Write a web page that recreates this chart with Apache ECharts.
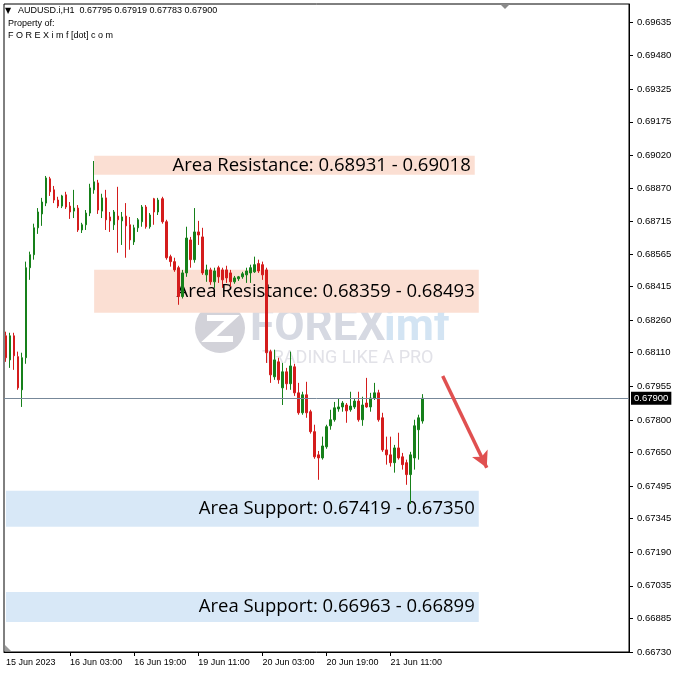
<!DOCTYPE html>
<html><head><meta charset="utf-8">
<script src="https://cdn.jsdelivr.net/npm/echarts@6/dist/echarts.min.js"></script>
<style>html,body{margin:0;padding:0;background:#fff}#c{width:678px;height:678px}</style>
</head><body><div id="c"></div>
<script>
// ---- data (AUDUSD H1) ----
const opens = [0.68188,0.68077,0.68188,0.68092,0.67939,0.68087,0.68502,0.68562,0.68686,0.68750,
0.68800,0.68912,0.68861,0.68814,0.68786,0.68838,0.68786,0.68763,0.68777,0.68676,
0.68700,0.68754,0.68861,0.68893,0.68763,0.68824,0.68736,0.68700,0.68740,0.68718,
0.68740,0.68700,0.68621,0.68686,0.68714,0.68782,0.68691,0.68820,0.68759,0.68820,
0.68714,0.68553,0.68530,0.68502,0.68369,0.68478,0.68630,0.68539,0.68667,0.68644,
0.68469,0.68492,0.68437,0.68502,0.68492,0.68492,0.68478,0.68437,0.68451,0.68460,
0.68469,0.68478,0.68483,0.68521,0.68516,0.68492,0.68115,0.67999,0.68068,0.67948,
0.68022,0.67967,0.68045,0.67925,0.67833,0.67916,0.67838,0.67746,0.67639,0.67625,
0.67676,0.67773,0.67801,0.67851,0.67860,0.67869,0.67847,0.67860,0.67887,0.67801,
0.67878,0.67860,0.67901,0.67925,0.67810,0.67662,0.67639,0.67603,0.67671,0.67630,
0.67603,0.67548,0.67625,0.67755,0.67795];
const closes = [0.68087,0.68188,0.68096,0.67948,0.68087,0.68502,0.68562,0.68686,0.68759,0.68805,
0.68916,0.68852,0.68814,0.68786,0.68833,0.68782,0.68759,0.68777,0.68676,0.68700,
0.68754,0.68870,0.68898,0.68768,0.68824,0.68723,0.68718,0.68759,0.68723,0.68736,
0.68695,0.68630,0.68686,0.68723,0.68782,0.68691,0.68745,0.68759,0.68814,0.68714,
0.68548,0.68530,0.68492,0.68369,0.68478,0.68639,0.68539,0.68667,0.68653,0.68478,
0.68492,0.68437,0.68487,0.68460,0.68446,0.68455,0.68437,0.68455,0.68460,0.68474,
0.68487,0.68502,0.68516,0.68487,0.68469,0.68110,0.68008,0.68077,0.67985,0.68022,
0.67967,0.68049,0.67925,0.67833,0.67916,0.67833,0.67746,0.67630,0.67625,0.67680,
0.67769,0.67801,0.67856,0.67860,0.67878,0.67842,0.67864,0.67887,0.67801,0.67869,
0.67860,0.67901,0.67925,0.67801,0.67662,0.67639,0.67603,0.67671,0.67625,0.67594,
0.67548,0.67639,0.67773,0.67810,0.67900];
const lows = [0.68068,0.68040,0.68031,0.67939,0.67860,0.68059,0.68446,0.68539,0.68658,0.68695,
0.68786,0.68833,0.68800,0.68777,0.68777,0.68773,0.68727,0.68731,0.68667,0.68662,
0.68676,0.68740,0.68843,0.68750,0.68731,0.68676,0.68667,0.68676,0.68571,0.68607,
0.68548,0.68585,0.68607,0.68667,0.68691,0.68682,0.68682,0.68700,0.68745,0.68705,
0.68539,0.68507,0.68483,0.68331,0.68360,0.68460,0.68502,0.68525,0.68607,0.68469,
0.68437,0.68423,0.68409,0.68432,0.68409,0.68432,0.68414,0.68428,0.68441,0.68451,
0.68432,0.68432,0.68478,0.68478,0.68446,0.68063,0.67971,0.67985,0.67967,0.67869,
0.67939,0.67939,0.67911,0.67824,0.67824,0.67810,0.67737,0.67621,0.67524,0.67617,
0.67667,0.67755,0.67792,0.67838,0.67838,0.67787,0.67838,0.67851,0.67792,0.67773,
0.67856,0.67838,0.67892,0.67792,0.67653,0.67594,0.67585,0.67557,0.67617,0.67571,
0.67501,0.67413,0.67571,0.67617,0.67783];
const highs = [0.68207,0.68202,0.68202,0.68115,0.68110,0.68530,0.68576,0.68705,0.68777,0.68824,
0.68925,0.68921,0.68879,0.68829,0.68838,0.68852,0.68805,0.68861,0.68791,0.68709,
0.68768,0.68889,0.68994,0.68907,0.68843,0.68861,0.68759,0.68768,0.68875,0.68759,
0.68800,0.68736,0.68700,0.68731,0.68791,0.68791,0.68754,0.68824,0.68824,0.68829,
0.68723,0.68562,0.68548,0.68511,0.68492,0.68691,0.68644,0.68777,0.68718,0.68686,
0.68516,0.68502,0.68502,0.68511,0.68502,0.68511,0.68492,0.68464,0.68464,0.68483,
0.68502,0.68516,0.68553,0.68539,0.68530,0.68502,0.68124,0.68124,0.68087,0.68063,
0.68040,0.68115,0.68059,0.67971,0.67930,0.67976,0.67847,0.67778,0.67657,0.67723,
0.67778,0.67847,0.67883,0.67901,0.67887,0.67878,0.67930,0.67901,0.67930,0.67907,
0.67994,0.67925,0.67971,0.67939,0.67833,0.67723,0.67723,0.67685,0.67741,0.67648,
0.67617,0.67653,0.67801,0.67824,0.67919];

const yTickValues = [0.69635,0.69480,0.69325,0.69175,0.69020,0.68870,0.68715,0.68565,0.68415,0.68260,
0.68110,0.67955,0.67800,0.67650,0.67495,0.67345,0.67190,0.67035,0.66885,0.66730];
const yMin = 0.66730, yMax = 0.69718;
const xTickIndex = [0,16,32,48,64,80,96];
const xTickText = ['15 Jun 2023','16 Jun 03:00','16 Jun 19:00','19 Jun 11:00','20 Jun 03:00','20 Jun 19:00','21 Jun 11:00'];
const lastPrice = 0.67900;
const headerText = ['AUDUSD.i,H1  0.67795 0.67919 0.67783 0.67900','Property of:','F O R E X i m f [dot] c o m'];

const zoneNames = ['Area Resistance: 0.68931 - 0.69018','Area Resistance: 0.68359 - 0.68493','Area Support: 0.67419 - 0.67350','Area Support: 0.66963 - 0.66899'];
const zoneTop = [0.69018,0.68493,0.67473,0.67007];
const zoneBottom = [0.68931,0.68294,0.67307,0.66868];
const zoneStart = [22,22,-1,-1];
const zoneEnd = [117,118,118,118];
const zoneKind = ['res','res','sup','sup'];
const arrowFrom = [109,0.68003];
const arrowTo = [120,0.67580];

// hourly slots (weekdays only) incl. empty right margin
const slotCount = 156;
const MON = ['Jan','Feb','Mar','Apr','May','Jun','Jul','Aug','Sep','Oct','Nov','Dec'];
const categories = [];
(function(){
  let t = Date.UTC(2023,5,15,11);
  while (categories.length < slotCount) {
    const d = new Date(t), wd = d.getUTCDay();
    if (wd !== 0 && wd !== 6) categories.push(d.getUTCDate()+' '+MON[d.getUTCMonth()]+' '+String(d.getUTCHours()).padStart(2,'0')+':00');
    t += 3600000;
  }
})();

const GREEN = '#16801a', RED = '#d41c1c';
const RES = '#fbdfd3', SUP = '#d8e8f7';
const candleData = opens.map((o,i)=>[o, closes[i], lows[i], highs[i]]);

const zoneData = zoneNames.map((name,i)=>[
  {name: name, xAxis: zoneStart[i], yAxis: zoneTop[i], itemStyle:{color: zoneKind[i]==='res'?RES:SUP}},
  {xAxis: zoneEnd[i], yAxis: zoneBottom[i]}
]);

const chart = echarts.init(document.getElementById('c'), null, {renderer:'canvas'});
chart.setOption({
  animation: false,
  backgroundColor: '#fff',
  grid: {left: 4, right: 49, top: 4, bottom: 26, show: true, borderColor: '#000', borderWidth: 1, backgroundColor: 'transparent'},
  xAxis: {
    type: 'category', data: categories, boundaryGap: true,
    axisLine: {show: true, lineStyle: {color: '#000', width: 1}},
    axisTick: {show: true, alignWithLabel: true, length: 4, lineStyle:{color:'#000'},
      interval: (i)=> i>0 && xTickIndex.includes(i)},
    axisLabel: {show: true, align: 'left', margin: 6, color: '#000', fontSize: 9, fontFamily: 'Liberation Sans',
      interval: (i)=> xTickIndex.includes(i),
      formatter: (v, i)=> { const k = xTickIndex.indexOf(i); return k>=0 ? xTickText[k] : ''; }},
    splitLine: {show: false}
  },
  yAxis: {
    type: 'value', position: 'right', min: yMin, max: yMax, scale: true,
    axisLine: {show: true, lineStyle: {color: '#000'}},
    axisTick: {show: true, length: 4, customValues: yTickValues, lineStyle:{color:'#000'}},
    axisLabel: {show: true, customValues: yTickValues, margin: 8, color: '#000', fontSize: 9.5, fontFamily: 'Liberation Sans',
      formatter: (v)=> v.toFixed(5)},
    splitLine: {show: false}
  },
  graphic: [
    {type:'group', z: 0, silent: true, children: [
      {type:'circle', shape:{cx:220, cy:328, r:25}, style:{fill:'#d2d2d9'}, z: 0},
      {type:'polyline', shape:{points:[[207,318],[232,318],[209,339],[233,339]]}, style:{stroke:'#fff', lineWidth:6, fill:null}, z: 0},
      {type:'text', left: 250, top: 307, style:{text:'FOREX', font:'bold 44px Roboto', fill:'#d6d9e2'}, z: 0},
      {type:'text', left: 384, top: 307, style:{text:'imf', font:'bold 44px Roboto', fill:'#d3e4f3'}, z: 0},
      {type:'text', left: 262, top: 349, style:{text:'TRADING LIKE A PRO', font:'18px Roboto', fill:'#e2e2e8'}, z: 0}
    ]},
    {type:'text', left: 5, top: 7, style:{text:'\u25BC', font:'8px DejaVu Sans', fill:'#000'}, z: 10},
    {type:'text', left: 18, top: 6, style:{text: headerText[0], font:'9px Liberation Sans', fill:'#000'}, z: 10},
    {type:'text', left: 8, top: 19, style:{text: headerText[1], font:'9px Liberation Sans', fill:'#000'}, z: 10},
    {type:'text', left: 8, top: 31, style:{text: headerText[2], font:'9px Liberation Sans', fill:'#000'}, z: 10},
    {type:'polygon', shape:{points:[[500,4],[510,4],[505,9]]}, style:{fill:'#8a8a8a'}, z: 10},
    {type:'polygon', shape:{points:[[5,645],[5,651],[11,651]]}, style:{fill:'#9a9a9a'}, z: 10}
  ],
  series: [{
    type: 'candlestick',
    data: candleData,
    barWidth: 2,
    z: 3,
    itemStyle: {color: GREEN, color0: RED, borderColor: GREEN, borderColor0: RED, borderWidth: 1},
    markArea: {
      silent: true,
      label: {show: true, position: 'insideRight', distance: 4, color: '#000', fontSize: 18.5, fontFamily: 'Open Sans'},
      data: zoneData
    },
    markLine: {
      silent: true, symbol: 'none', animation: false, precision: 5,
      lineStyle: {color: '#778899', width: 1, type: 'solid'},
      label: {show: true, position: 'end', distance: 2, formatter: ()=> lastPrice.toFixed(5), color: '#fff', backgroundColor: '#000',
              padding: [2,3,1,3], fontSize: 9.5, fontFamily: 'Liberation Sans'},
      data: [{yAxis: lastPrice}]
    }
  }, {
    type: 'line',
    data: [],
    silent: true,
    markLine: {
      silent: true, animation: false, precision: 5,
      symbol: ['none', 'arrow'], symbolSize: [13, 16],
      lineStyle: {color: '#e05050', width: 3.5, type: 'solid'},
      label: {show: false},
      data: [[{coord: arrowFrom}, {coord: arrowTo}]]
    }
  }]
});
</script></body></html>
